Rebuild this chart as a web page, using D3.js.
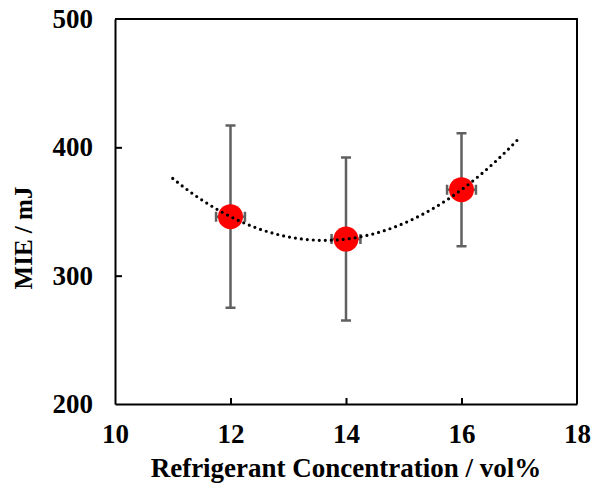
<!DOCTYPE html>
<html>
<head>
<meta charset="utf-8">
<script src="https://cdn.jsdelivr.net/npm/d3@7"></script>
<style>
  body { margin: 0; background: #fff; }
  text { font-family: "Liberation Serif", "Times New Roman", serif; font-weight: bold; fill: #000; }
</style>
</head>
<body>
<div id="chart"></div>
<script>
// data
const concentration = [12, 14, 16]
const mie = [346, 328.5, 367]
const mieHigh = [417, 392, 411]
const mieLow = [275, 265, 323]
const concErr = [0.25, 0.25, 0.25]

const xTicks = [10, 12, 14, 16, 18]
const yTicks = [200, 300, 400, 500]
const trendRange = [11, 17]

const width = 592, height = 488
const margin = {top: 19, right: 15, bottom: 84, left: 115}

const svg = d3.select("#chart").append("svg")
    .attr("width", width)
    .attr("height", height)

const x = d3.scaleLinear().domain([10, 18]).range([margin.left, width - margin.right])
const y = d3.scaleLinear().domain([200, 500]).range([height - margin.bottom, margin.top])

// quadratic trendline (least squares through the points, like the spreadsheet trendline)
function polyFit2(xs, ys) {
    let n = xs.length
    let S = [0, 0, 0, 0, 0], T = [0, 0, 0]
    for (let i = 0; i < n; i++) {
        for (let k = 0; k < 5; k++) S[k] += Math.pow(xs[i], k)
        for (let k = 0; k < 3; k++) T[k] += ys[i] * Math.pow(xs[i], k)
    }
    let A = [[S[0], S[1], S[2], T[0]], [S[1], S[2], S[3], T[1]], [S[2], S[3], S[4], T[2]]]
    for (let c = 0; c < 3; c++) {
        for (let r = c + 1; r < 3; r++) {
            let f = A[r][c] / A[c][c]
            for (let k = c; k < 4; k++) A[r][k] -= f * A[c][k]
        }
    }
    let coef = [0, 0, 0]
    for (let r = 2; r >= 0; r--) {
        let s = A[r][3]
        for (let k = r + 1; k < 3; k++) s -= A[r][k] * coef[k]
        coef[r] = s / A[r][r]
    }
    return coef
}
const coef = polyFit2(concentration, mie)
const trend = d3.range(trendRange[0], trendRange[1] + 0.001, 0.05)
    .map(v => ({x: v, y: coef[0] + coef[1] * v + coef[2] * v * v}))

// axes
const xAxis = d3.axisBottom(x).tickValues(xTicks).tickSize(-6).tickPadding(20).tickSizeOuter(0)
const yAxis = d3.axisLeft(y).tickValues(yTicks).tickSize(-7).tickPadding(22).tickSizeOuter(0)

svg.append("g")
    .attr("class", "x-axis")
    .attr("transform", `translate(0,${y(200)})`)
    .call(xAxis)

svg.append("g")
    .attr("class", "y-axis")
    .attr("transform", `translate(${x(10)},0)`)
    .call(yAxis)

svg.selectAll(".x-axis, .y-axis").selectAll("path, line")
    .attr("stroke", "#000").attr("stroke-width", 2)
svg.selectAll(".x-axis text, .y-axis text")
    .attr("font-size", 27)
    .attr("font-family", "Liberation Serif, Times New Roman, serif")
    .attr("font-weight", "bold")
    .attr("fill", "#000")
svg.selectAll(".x-axis .tick:first-of-type line, .x-axis .tick:last-of-type line").remove()
svg.selectAll(".y-axis .tick:first-of-type line, .y-axis .tick:last-of-type line").remove()

// top and right frame
svg.append("path")
    .attr("d", `M${x(10)},${y(500)}H${x(18)}V${y(200)}`)
    .attr("fill", "none")
    .attr("stroke", "#000")
    .attr("stroke-width", 2)

const pts = concentration.map((c, i) => ({c, v: mie[i], hi: mieHigh[i], lo: mieLow[i], e: concErr[i]}))

// error bars
const err = svg.append("g").attr("stroke", "#606060").attr("stroke-width", 2.5).attr("fill", "none")
err.selectAll(".ev").data(pts).enter().append("path")
    .attr("class", "ev")
    .attr("d", d => `M${x(d.c)},${y(d.lo)}V${y(d.hi)}M${x(d.c) - 5},${y(d.hi)}h10M${x(d.c) - 5},${y(d.lo)}h10`)
err.selectAll(".eh").data(pts).enter().append("path")
    .attr("class", "eh")
    .attr("d", d => `M${x(d.c - d.e)},${y(d.v)}H${x(d.c + d.e)}M${x(d.c - d.e)},${y(d.v) - 5}v10M${x(d.c + d.e)},${y(d.v) - 5}v10`)

// markers
svg.selectAll(".dot").data(pts).enter().append("circle")
    .attr("class", "dot")
    .attr("cx", d => x(d.c))
    .attr("cy", d => y(d.v))
    .attr("r", 12.5)
    .attr("fill", "#ff0000")

// trendline (drawn over the markers, as in the reference)
svg.append("path")
    .datum(trend)
    .attr("fill", "none")
    .attr("stroke", "#000")
    .attr("stroke-width", 3.2)
    .attr("stroke-linecap", "round")
    .attr("stroke-dasharray", "0,6")
    .attr("d", d3.line().x(d => x(d.x)).y(d => y(d.y)))

// axis titles
svg.append("text")
    .attr("x", (x(10) + x(18)) / 2)
    .attr("y", 477)
    .attr("text-anchor", "middle")
    .attr("font-size", 27)
    .text("Refrigerant Concentration / vol%")

svg.append("text")
    .attr("transform", `translate(32,238) rotate(-90)`)
    .attr("text-anchor", "middle")
    .attr("font-size", 25)
    .text("MIE / mJ")
</script>
</body>
</html>
